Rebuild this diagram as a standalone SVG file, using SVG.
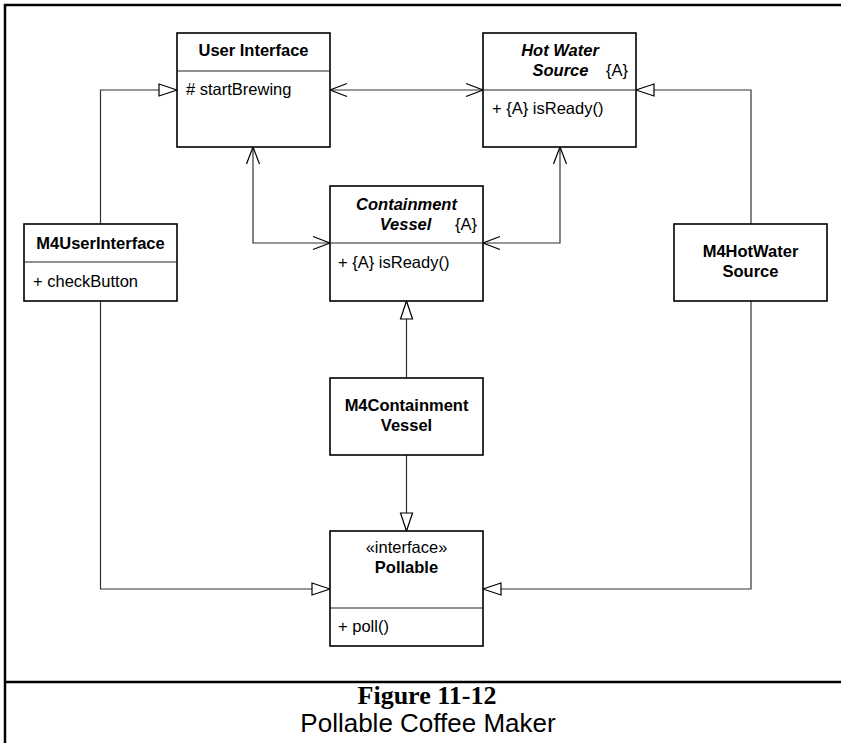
<svg xmlns="http://www.w3.org/2000/svg" width="841" height="743" viewBox="0 0 841 743">
<style>
.box{fill:#fff;stroke:#000;stroke-width:1.6}
.div{stroke:#222;stroke-width:1.2}
.t{font-family:"Liberation Sans",Arial,sans-serif;font-size:16.5px;fill:#000}
.b{font-weight:bold}
.bi{font-weight:bold;font-style:italic}
.c{text-anchor:middle}
.con{fill:none;stroke:#333;stroke-width:1.2}
.frame{stroke:#000;stroke-width:2.5;fill:none}
</style>
<defs>
<marker id="open" viewBox="-19 -8 21 16" refX="0" refY="0" markerWidth="21" markerHeight="16" markerUnits="userSpaceOnUse" orient="auto-start-reverse">
<path d="M-17,-6.5 L0,0 L-17,6.5" fill="none" stroke="#000" stroke-width="1.2"/>
</marker>
<marker id="tri" viewBox="-20 -8 22 16" refX="0" refY="0" markerWidth="22" markerHeight="16" markerUnits="userSpaceOnUse" orient="auto">
<path d="M0,0 L-18,-6 L-18,6 Z" fill="#fff" stroke="#000" stroke-width="1.2"/>
</marker>
</defs>
<rect x="0" y="0" width="841" height="743" fill="#fff"/>
<g id="frame">
<path class="frame" d="M5,743 V5 H841"/>
<line class="frame" x1="5" y1="682" x2="841" y2="682"/>
</g>
<g id="connectors">
<path class="con" d="M330,90 H483" marker-start="url(#open)" marker-end="url(#open)"/>
<path class="con" d="M253,147 V243 H330" marker-start="url(#open)" marker-end="url(#open)"/>
<path class="con" d="M560,147 V243 H483" marker-start="url(#open)" marker-end="url(#open)"/>
<path class="con" d="M100.5,224 V90 H177" marker-end="url(#tri)"/>
<path class="con" d="M751,224 V90 H636" marker-end="url(#tri)"/>
<path class="con" d="M406.5,378 V301" marker-end="url(#tri)"/>
<path class="con" d="M406.5,455 V531" marker-end="url(#tri)"/>
<path class="con" d="M100.5,301 V589 H330" marker-end="url(#tri)"/>
<path class="con" d="M751,301 V589 H483" marker-end="url(#tri)"/>
</g>
<g id="UserInterface">
<rect class="box" x="177" y="33" width="153" height="114"/>
<line class="div" x1="177" y1="71" x2="330" y2="71"/>
<text class="t b c" x="253.5" y="56">User Interface</text>
<text class="t" x="186" y="95"># startBrewing</text>
</g>
<g id="HotWaterSource">
<rect class="box" x="483" y="33" width="153" height="114"/>
<line class="div" x1="483" y1="90" x2="636" y2="90"/>
<text class="t bi c" x="560" y="56">Hot Water</text>
<text class="t bi c" x="560.5" y="76">Source</text>
<text class="t" x="606" y="76">{A}</text>
<text class="t" x="492" y="114">+ {A} isReady()</text>
</g>
<g id="ContainmentVessel">
<rect class="box" x="330" y="186" width="153" height="115"/>
<line class="div" x1="330" y1="243" x2="483" y2="243"/>
<text class="t bi c" x="406.5" y="210">Containment</text>
<text class="t bi c" x="405.5" y="230">Vessel</text>
<text class="t" x="455" y="230">{A}</text>
<text class="t" x="338" y="268">+ {A} isReady()</text>
</g>
<g id="M4UserInterface">
<rect class="box" x="24" y="224" width="153" height="77"/>
<line class="div" x1="24" y1="262" x2="177" y2="262"/>
<text class="t b c" x="100.5" y="249">M4UserInterface</text>
<text class="t" x="33" y="287">+ checkButton</text>
</g>
<g id="M4HotWaterSource">
<rect class="box" x="674" y="224" width="153" height="77"/>
<text class="t b c" x="750.5" y="257">M4HotWater</text>
<text class="t b c" x="750.5" y="277">Source</text>
</g>
<g id="M4ContainmentVessel">
<rect class="box" x="330" y="378" width="153" height="77"/>
<text class="t b c" x="406.5" y="411">M4Containment</text>
<text class="t b c" x="406.5" y="431">Vessel</text>
</g>
<g id="Pollable">
<rect class="box" x="330" y="531" width="153" height="115"/>
<line class="div" x1="330" y1="608" x2="483" y2="608"/>
<text class="t c" x="406.5" y="553">«interface»</text>
<text class="t b c" x="406.5" y="573">Pollable</text>
<text class="t" x="338" y="632">+ poll()</text>
</g>
<g id="caption">
<text x="427" y="704" text-anchor="middle" font-family="'Liberation Serif','Times New Roman',serif" font-weight="bold" font-size="26">Figure 11-12</text>
<text x="428" y="732" text-anchor="middle" font-family="'Liberation Sans',Arial,sans-serif" font-size="26">Pollable Coffee Maker</text>
</g>
</svg>
